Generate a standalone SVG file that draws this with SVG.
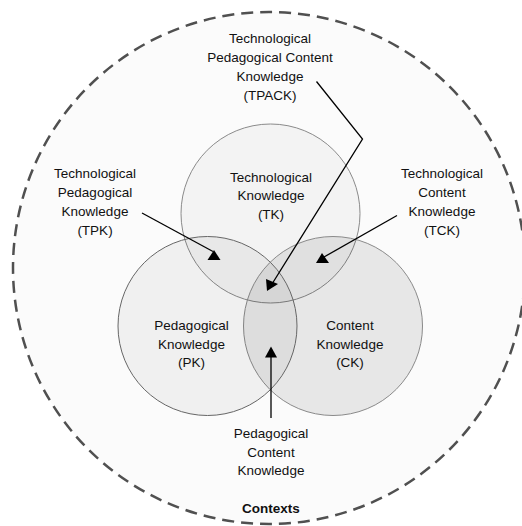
<svg xmlns="http://www.w3.org/2000/svg" width="522" height="526" viewBox="0 0 522 526">
<style>
text{font-family:"Liberation Sans",Arial,sans-serif;font-size:13.5px;fill:#111;text-anchor:middle}
.b{font-weight:bold}
.ring{stroke:#8a8a8a;stroke-width:1}
.ln{stroke:#000;stroke-width:1.3;fill:none}
.ah{fill:#000}
</style>
<rect width="522" height="526" fill="#fff"/>
<g id="contexts">
<circle cx="269" cy="268" r="256" fill="#fbfbfb" stroke="#505050" stroke-width="2.5" stroke-dasharray="12 7"/>
<text class="b" x="271" y="513">Contexts</text>
</g>
<g id="tk">
<circle class="ring" cx="270.5" cy="213.5" r="89.5" fill="#000" fill-opacity="0.03"/>
<text x="271" y="181.5">Technological</text>
<text x="271" y="200">Knowledge</text>
<text x="271" y="218.5">(TK)</text>
</g>
<g id="ck">
<circle class="ring" cx="333" cy="326" r="89.5" fill="#000" fill-opacity="0.08"/>
<text x="350" y="330">Content</text>
<text x="350" y="348.5">Knowledge</text>
<text x="350" y="367">(CK)</text>
</g>
<g id="pk">
<circle cx="207.5" cy="326" r="89.5" fill="#000" fill-opacity="0.045" stroke="#666" stroke-width="1"/>
<text x="191.5" y="330">Pedagogical</text>
<text x="191.5" y="348.5">Knowledge</text>
<text x="191.5" y="367">(PK)</text>
</g>
<g id="tpack">
<text x="270" y="43">Technological</text>
<text x="270" y="62">Pedagogical Content</text>
<text x="270" y="81">Knowledge</text>
<text x="270" y="99.5">(TPACK)</text>
</g>
<g id="tpk">
<text x="95" y="178">Technological</text>
<text x="95" y="197">Pedagogical</text>
<text x="95" y="216">Knowledge</text>
<text x="95" y="234.5">(TPK)</text>
</g>
<g id="tck">
<text x="442" y="178">Technological</text>
<text x="442" y="197">Content</text>
<text x="442" y="216">Knowledge</text>
<text x="442" y="234.5">(TCK)</text>
</g>
<g id="pck">
<text x="271" y="438">Pedagogical</text>
<text x="271" y="456.5">Content</text>
<text x="271" y="475">Knowledge</text>
</g>
<g id="connectors">
<polyline class="ln" points="316.5,81.5 362.5,139 272,284"/>
<polygon class="ah" points="266,279 267,291 278,284"/>
<line class="ln" x1="142" y1="213" x2="213" y2="251.5"/>
<polygon class="ah" points="214,250 207.5,260 220.5,260"/>
<line class="ln" x1="397" y1="215.5" x2="324" y2="257"/>
<polygon class="ah" points="322,253 316,263 329,263"/>
<line class="ln" x1="271" y1="418" x2="271" y2="356"/>
<polygon class="ah" points="271,346.5 265,357.5 277,357.5"/>
</g>
</svg>
